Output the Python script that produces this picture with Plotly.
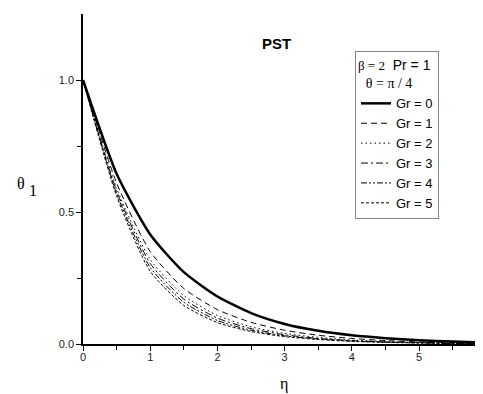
import plotly.graph_objects as go

eta = [0, 0.5, 1.0, 1.5, 2.0, 2.5, 3.0, 3.5, 4.0, 4.5, 5.0, 5.5, 6.0]
gr0 = [1.0, 0.645, 0.415, 0.272, 0.180, 0.117, 0.076, 0.050, 0.033, 0.022, 0.014, 0.009, 0.006]
gr1 = [1.0, 0.610, 0.350, 0.210, 0.130, 0.082, 0.052, 0.033, 0.021, 0.013, 0.008, 0.005, 0.003]
gr2 = [1.0, 0.590, 0.320, 0.183, 0.108, 0.065, 0.040, 0.025, 0.015, 0.009, 0.006, 0.004, 0.002]
gr3 = [1.0, 0.580, 0.305, 0.170, 0.098, 0.058, 0.035, 0.021, 0.013, 0.008, 0.005, 0.003, 0.002]
gr4 = [1.0, 0.570, 0.290, 0.158, 0.089, 0.052, 0.031, 0.019, 0.011, 0.007, 0.004, 0.002, 0.001]
gr5 = [1.0, 0.560, 0.275, 0.146, 0.081, 0.047, 0.028, 0.017, 0.010, 0.006, 0.004, 0.002, 0.001]

series = [
    ("Gr = 0", gr0, "solid", 2.5),
    ("Gr = 1", gr1, "6px,4px", 1),
    ("Gr = 2", gr2, "1.5px,3px", 1),
    ("Gr = 3", gr3, "7px,3px,2px,3px", 1),
    ("Gr = 4", gr4, "6px,2px,2px,2px,2px,2px", 1),
    ("Gr = 5", gr5, "3px,2px", 1),
]

fig = go.Figure()
for name, ys, dash, w in series:
    fig.add_trace(go.Scatter(x=eta, y=ys, mode="lines", name=name,
                             line=dict(color="black", width=w, dash=dash, shape="spline", smoothing=0.6)))

axis_common = dict(showgrid=False, zeroline=False, showline=True, linecolor="black", linewidth=1.5,
                   ticks="outside", ticklen=5, tickcolor="black", tickwidth=1.2,
                   tickfont=dict(family="Arial", size=11, color="#222"))

# page body has an 8px margin: figure origin sits at screen (8, 8)
OFF = 8
L, T = 83 - OFF, 14 - OFF
PW, PH = 400, 330
W, H = 475, 386

fig.update_layout(
    width=W, height=H,
    margin=dict(l=L, r=W - L - PW, t=T, b=H - T - PH),
    paper_bgcolor="white", plot_bgcolor="white",
    xaxis=dict(range=[0, 5.95], tickvals=[0, 1, 2, 3, 4, 5, 6], ticktext=["0", "1", "2", "3", "4", "5", "6"],
               minor=dict(ticks="outside", ticklen=4, dtick=0.5, tickcolor="black"),
               ticklabelstandoff=-3, **axis_common),
    yaxis=dict(range=[0, 1.25], tickvals=[0, 0.5, 1.0], ticktext=["0.0", "0.5", "1.0"],
               minor=dict(ticks="outside", ticklen=4, tickvals=[0.25, 0.75], tickcolor="black"),
               **axis_common),
    showlegend=True,
    legend=dict(x=(355 - 83) / PW, y=(344 - 51) / PH, xanchor="left", yanchor="top",
                bordercolor="#888", borderwidth=1, bgcolor="white",
                font=dict(family="Arial", size=13, color="black"),
                tracegroupgap=0, itemwidth=30,
                title=dict(text="<span style='font-family:Liberation Serif;font-size:13px'>β = 2</span>  Pr = 1<br>  <span style='font-family:Liberation Serif'>θ = π / 4</span>",
                           font=dict(family="Arial", size=14, color="black"))),
)


def px_x(sx):
    return (sx - 83) / PW


def px_y(sy):
    return (344 - sy) / PH


def label(text, sx, sy, family, size):
    fig.add_annotation(text=text, xref="paper", yref="paper", x=px_x(sx), y=px_y(sy),
                       xanchor="center", yanchor="middle", showarrow=False,
                       font=dict(family=family, size=size, color="black"))


label("<b>PST</b>", 276, 43, "Arial", 15)
label("η", 284, 384, "Liberation Serif", 16)
label("θ", 21, 183, "Liberation Serif", 16)
label("1", 33, 190, "Liberation Serif", 16)

fig.write_html("out.html")
